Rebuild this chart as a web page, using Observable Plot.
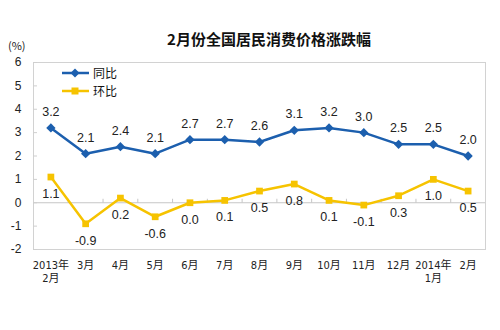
<!DOCTYPE html>
<html><head><meta charset="utf-8">
<script src="https://cdn.jsdelivr.net/npm/d3@7"></script>
<script src="https://cdn.jsdelivr.net/npm/@observablehq/plot@0.6"></script>
<style>
body{margin:0;background:#fff;}
#wrap{position:relative;width:500px;height:330px;font-family:"Noto Sans CJK SC",sans-serif;color:#111;}
#title{position:absolute;left:38px;width:462px;top:29px;text-align:center;font-size:15px;font-weight:bold;line-height:20px;}
#unit{position:absolute;left:8px;top:38px;font-size:11px;line-height:14px;color:#222;}
#chart{position:absolute;left:0;top:52px;}
#legend{position:absolute;left:61px;top:64px;font-size:12px;line-height:18px;}
#legend div{display:flex;align-items:center;height:18px;}
#legend svg{margin-right:2px;}
</style></head><body>
<div id="wrap"><div id="title">2月份全国居民消费价格涨跌幅</div><div id="unit">(%)</div><div id="chart"></div><div id="legend"></div></div>
<script>
const months = ["2013年\n2月","3月","4月","5月","6月","7月","8月","9月","10月","11月","12月","2014年\n1月","2月"];
const yoy = [3.2,2.1,2.4,2.1,2.7,2.7,2.6,3.1,3.2,3.0,2.5,2.5,2.0];
const mom = [1.1,-0.9,0.2,-0.6,0.0,0.1,0.5,0.8,0.1,-0.1,0.3,1.0,0.5];
const seriesNames = ["同比","环比"];
const seriesColors = ["#1c5fae","#f6c300"];
const yTicks = [-2,-1,0,1,2,3,4,5,6];

const idx = d3.range(months.length);
const data = idx.map(i => ({i, yoy: yoy[i], mom: mom[i]}));
const bounds = d3.range(1, months.length).map(k => k - 0.5);
const tickMark = {draw(ctx, size){ const r = Math.sqrt(size/Math.PI); ctx.moveTo(0,0); ctx.lineTo(0,-r); }};
const blue = seriesColors[0], yellow = seriesColors[1];
const lblFont = "Liberation Sans, Arial, sans-serif";

const chart = Plot.plot({
  width:500, height:278, marginTop:10, marginBottom:81, marginLeft:33, marginRight:15,
  style:{fontFamily:"Noto Sans CJK SC, sans-serif", color:"#222", background:"transparent"},
  x:{type:"linear", domain:[-0.5, months.length-0.5]},
  y:{domain:[-2,6]},
  marks:[
    Plot.frame({stroke:"#d2d2d2"}),
    Plot.ruleY([0], {stroke:"#c6c6c6"}),
    Plot.dot(bounds, {x:d=>d, y:0, symbol:tickMark, r:4, stroke:"#c6c6c6", fill:"none", strokeWidth:1}),
    Plot.axisY({ticks:yTicks, tickSize:-4, tickPadding:16, stroke:"#cfcfcf", fill:"#222", fontSize:12, fontFamily:lblFont, tickFormat:d=>String(d), label:null}),
    Plot.axisX({ticks:idx, tickFormat:i=>months[i], tickSize:0, tickPadding:11, fontSize:11, lineHeight:1.15, fontFamily:"DejaVu Sans Condensed, Noto Sans CJK SC, sans-serif", fill:"#222", label:null}),
    Plot.line(data, {x:"i", y:"yoy", stroke:blue, strokeWidth:2.5}),
    Plot.dot(data, {x:"i", y:"yoy", symbol:"diamond2", r:4.2, fill:blue, stroke:"none"}),
    Plot.text(data, {x:"i", y:"yoy", text:d=>d.yoy.toFixed(1), dy:-16, fontSize:12.5, fontFamily:lblFont, fill:"#222"}),
    Plot.line(data, {x:"i", y:"mom", stroke:yellow, strokeWidth:2.5}),
    Plot.dot(data, {x:"i", y:"mom", symbol:"square", r:3.8, fill:yellow, stroke:"none"}),
    Plot.text(data, {x:"i", y:"mom", text:d=>d.mom.toFixed(1), dy:17, fontSize:12.5, fontFamily:lblFont, fill:"#222"})
  ]
});
document.getElementById("chart").appendChild(chart);

const legend = document.getElementById("legend");
const shapes = ['<path d="M14,5.5 L18.5,10 L14,14.5 L9.5,10 Z" fill="COL"/>','<rect x="10.5" y="6.5" width="7" height="7" fill="COL"/>'];
seriesNames.forEach((n,k)=>{
  const row = document.createElement("div");
  row.innerHTML = `<svg width="30" height="20"><line x1="1" x2="28" y1="10" y2="10" stroke="${seriesColors[k]}" stroke-width="2.5"/>${shapes[k].replace("COL",seriesColors[k])}</svg><span>${n}</span>`;
  legend.appendChild(row);
});
</script>
</body></html>
